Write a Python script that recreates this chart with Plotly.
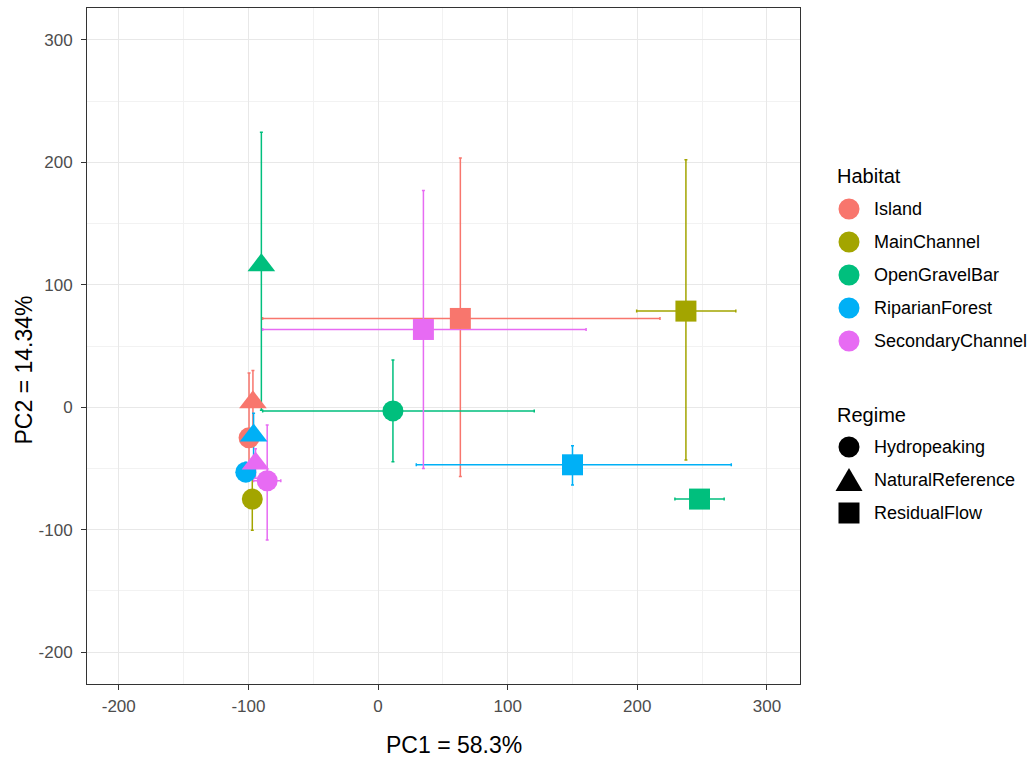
import numpy as np
import plotly.graph_objects as go

# ---- data ----
habitats = ["Island", "MainChannel", "OpenGravelBar", "RiparianForest", "SecondaryChannel"]
regimes = ["Hydropeaking", "NaturalReference", "ResidualFlow"]
habitat_colors = ["#F8766D", "#A3A500", "#00BF7D", "#00B0F6", "#E76BF3"]
regime_symbols = ["circle", "triangle-up", "square"]

rec_habitat = ["Island", "Island", "Island",
               "MainChannel", "MainChannel",
               "OpenGravelBar", "OpenGravelBar", "OpenGravelBar",
               "RiparianForest", "RiparianForest", "RiparianForest",
               "SecondaryChannel", "SecondaryChannel", "SecondaryChannel"]
rec_regime = ["Hydropeaking", "NaturalReference", "ResidualFlow",
              "Hydropeaking", "ResidualFlow",
              "Hydropeaking", "NaturalReference", "ResidualFlow",
              "Hydropeaking", "NaturalReference", "ResidualFlow",
              "Hydropeaking", "NaturalReference", "ResidualFlow"]
pc1 = [-99.5, -96.5, 63.5,
       -97.0, 237.5,
       11.5, -90.0, 248.0,
       -102.0, -96.0, 150.0,
       -85.5, -94.5, 35.0]
pc2 = [-25.0, 4.0, 72.5,
       -75.0, 78.5,
       -3.0, 116.0, -75.0,
       -53.0, -23.0, -47.0,
       -60.0, -46.0, 63.5]
pc1_lo = [-99.5, -96.5, -89.0,
          -97.0, 199.5,
          -89.0, -90.0, 229.0,
          -102.0, -96.0, 29.5,
          -96.0, -94.5, -89.0]
pc1_hi = [-99.5, -96.5, 217.5,
          -97.0, 276.0,
          120.5, -90.0, 267.0,
          -102.0, -96.0, 272.5,
          -75.0, -94.5, 160.5]
pc2_lo = [-48.0, -20.0, -56.5,
          -100.5, -43.0,
          -44.5, -2.5, -75.0,
          -60.0, -45.0, -63.5,
          -108.5, -58.0, -50.0]
pc2_hi = [28.0, 30.0, 203.5,
          -50.0, 202.0,
          38.5, 224.5, -75.0,
          -45.0, -5.0, -31.5,
          -14.5, -34.0, 177.0]

x_title = "PC1 = 58.3%"
y_title = "PC2 = 14.34%"
tick_vals = [-200, -100, 0, 100, 200, 300]
tick_text = ["-200", "-100", "0", "100", "200", "300"]
legend_titles = ["Habitat", "Regime"]

FONT = "Liberation Sans, Arial, sans-serif"

# plot-area geometry in pixels (for the hand-built legend)
W, H = 1028, 760
ML, MR, MT, MB = 87, 228, 8, 76
PW, PH = W - ML - MR, H - MT - MB


def px2paper_x(px):
    return (px - ML) / PW


def px2paper_y(py):
    return (H - MB - py) / PH


fig = go.Figure()

rh = np.array(rec_habitat)
rr = np.array(rec_regime)
x = np.array(pc1)
y = np.array(pc2)
xlo, xhi = np.array(pc1_lo), np.array(pc1_hi)
ylo, yhi = np.array(pc2_lo), np.array(pc2_hi)


def err(a):
    a = a.astype(float)
    return [None if v == 0 else v for v in a]


# error bars first
for h, c in zip(habitats, habitat_colors):
    m = rh == h
    fig.add_trace(go.Scatter(
        x=x[m], y=y[m], mode="markers",
        marker=dict(size=1, opacity=0, color=c),
        error_x=dict(type="data", symmetric=False, array=err(xhi[m] - x[m]),
                     arrayminus=err(x[m] - xlo[m]), color=c, thickness=1.5, width=1.5),
        error_y=dict(type="data", symmetric=False, array=err(yhi[m] - y[m]),
                     arrayminus=err(y[m] - ylo[m]), color=c, thickness=1.5, width=1.5),
        showlegend=False, hoverinfo="skip"))

# points
sym_map = dict(zip(regimes, regime_symbols))
size_map = {"circle": 21, "triangle-up": 24, "square": 21}
for h, c in zip(habitats, habitat_colors):
    m = rh == h
    syms = [sym_map[r] for r in rr[m]]
    fig.add_trace(go.Scatter(
        x=x[m], y=y[m], mode="markers",
        marker=dict(color=c, symbol=syms, size=[size_map[s] for s in syms],
                    opacity=1, line=dict(width=0)),
        name=h, showlegend=False))

# ---- hand-built legend (ggplot-like keys) ----
shapes = []
annotations = []
KEY_X = 849
TEXT_X = 872
TITLE_X = 835
STEP = 33


def key_shape(kind, cx, cy, color):
    base = dict(xref="paper", yref="paper", xsizemode="pixel", ysizemode="pixel",
                xanchor=px2paper_x(cx), yanchor=px2paper_y(cy),
                fillcolor=color, line=dict(width=0), layer="above")
    if kind == "circle":
        return dict(type="circle", x0=-10.5, x1=10.5, y0=-10.5, y1=10.5, **base)
    if kind == "square":
        return dict(type="rect", x0=-10.5, x1=10.5, y0=-10.5, y1=10.5, **base)
    return dict(type="path", path="M -13.5,-11 L 13.5,-11 L 0,12 Z", **base)


def add_block(title, title_y, names, kinds, colors, first_y):
    annotations.append(dict(
        text=title, xref="paper", yref="paper", x=px2paper_x(TITLE_X), y=px2paper_y(title_y),
        xanchor="left", yanchor="middle", showarrow=False,
        font=dict(family=FONT, size=20, color="black")))
    for i, (n, k, c) in enumerate(zip(names, kinds, colors)):
        cy = first_y + i * STEP
        shapes.append(key_shape(k, KEY_X, cy, c))
        annotations.append(dict(
            text=n, xref="paper", yref="paper", x=px2paper_x(TEXT_X), y=px2paper_y(cy),
            xanchor="left", yanchor="middle", showarrow=False,
            font=dict(family=FONT, size=18, color="black")))


add_block(legend_titles[0], 176, habitats, ["circle"] * len(habitats), habitat_colors, 209)
add_block(legend_titles[1], 415, regimes, regime_symbols, ["black"] * len(regimes), 447)

annotations += [
    dict(text=x_title, xref="paper", yref="paper", x=px2paper_x(454), y=px2paper_y(745),
         xanchor="center", yanchor="middle", showarrow=False,
         font=dict(family=FONT, size=23, color="black")),
    dict(text=y_title, xref="paper", yref="paper", x=px2paper_x(23), y=px2paper_y(370.5),
         xanchor="center", yanchor="middle", textangle=-90, showarrow=False,
         font=dict(family=FONT, size=23, color="black")),
]

axis_common = dict(
    tickvals=tick_vals, ticktext=tick_text,
    ticks="outside", ticklen=5, tickwidth=1, tickcolor="#333333",
    tickfont=dict(family=FONT, size=17, color="#4D4D4D"),
    showgrid=True, gridcolor="#E8E8E8", gridwidth=1,
    minor=dict(dtick=50, tick0=0, showgrid=True, gridcolor="#F2F2F2", gridwidth=1, ticks=""),
    showline=True, linecolor="#333333", linewidth=1, mirror=True,
    zeroline=False,
)

fig.update_layout(
    width=W, height=H,
    margin=dict(l=ML, r=MR, t=MT, b=MB),
    paper_bgcolor="white", plot_bgcolor="white",
    font=dict(family=FONT, color="black"),
    showlegend=False,
    xaxis=dict(range=[-224.5, 325.5], ticklabelstandoff=2, **axis_common),
    yaxis=dict(range=[-226, 326], ticklabelstandoff=5, **axis_common),
    shapes=shapes,
    annotations=annotations,
)

fig.write_html("out.html")
